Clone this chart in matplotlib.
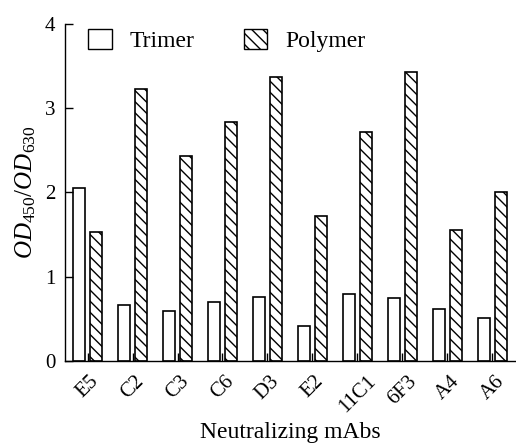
import matplotlib
matplotlib.use("Agg")
import matplotlib.pyplot as plt
import numpy as np
from matplotlib.patches import Patch

categories = ["E5", "C2", "C3", "C6", "D3", "E2", "11C1", "6F3", "A4", "A6"]
trimer = [2.05, 0.66, 0.59, 0.70, 0.76, 0.41, 0.80, 0.75, 0.62, 0.51]
polymer = [1.53, 3.23, 2.43, 2.83, 3.37, 1.72, 2.72, 3.43, 1.55, 2.01]
yticks = [0, 1, 2, 3, 4]

plt.rcParams['font.family'] = ['Liberation Serif', 'DejaVu Serif']
plt.rcParams['mathtext.fontset'] = 'custom'
plt.rcParams['mathtext.rm'] = 'Liberation Serif'
plt.rcParams['mathtext.it'] = 'Liberation Serif:italic'
plt.rcParams['hatch.linewidth'] = 1.0

fig = plt.figure(figsize=(5.16, 4.46), dpi=100)
ax = fig.add_axes([0.126, 0.1906, 0.872, 0.756])

x = np.arange(len(categories))
w = 0.25
off = 0.19
ax.bar(x - off, trimer, w, facecolor='white', edgecolor='black', linewidth=1.2)
ax.bar(x + off, polymer, w, facecolor='white', edgecolor='black', linewidth=1.2, hatch='\\\\\\')

ax.set_xlim(-0.5, len(categories) - 0.5)
ax.set_ylim(0, 4)
ax.set_yticks(yticks)
ax.set_yticklabels([str(v) for v in yticks], fontsize=15)
ax.set_xticks(x)
ax.set_xticklabels(categories, rotation=45, ha='center', fontsize=15)
ax.tick_params(axis='both', direction='in', length=6, width=1.0, pad=7)
ax.tick_params(axis='x', pad=8)
for s in ['top', 'right']:
    ax.spines[s].set_visible(False)
for s in ['left', 'bottom']:
    ax.spines[s].set_linewidth(1.0)

ax.set_ylabel(r'$\mathit{OD}_{450}/\mathit{OD}_{630}$', fontsize=18, labelpad=5)
ax.set_xlabel('Neutralizing mAbs', fontsize=17, labelpad=4)

handles = [Patch(facecolor='white', edgecolor='black', linewidth=1.0, label='Trimer'),
           Patch(facecolor='white', edgecolor='black', linewidth=1.0, hatch='\\\\\\', label='Polymer')]
ax.legend(handles=handles, loc='upper left', bbox_to_anchor=(88 / 516, 1 - 29 / 446),
          bbox_transform=fig.transFigure, ncol=2, frameon=False, borderpad=0, borderaxespad=0,
          fontsize=17, handlelength=1.0, handleheight=0.9, columnspacing=2.1, handletextpad=0.75)

fig.savefig('out.png', dpi=100)
